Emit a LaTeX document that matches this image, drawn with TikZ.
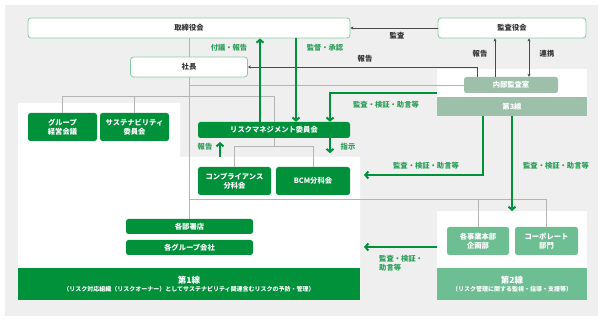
\documentclass[tikz,border=0pt]{standalone}
\usepackage{fontspec}
\setmainfont{Noto Sans CJK JP}
\usetikzlibrary{arrows.meta}
\definecolor{bggray}{HTML}{EFEFEF}
\definecolor{dkgreen}{HTML}{00913A}
\definecolor{midgreen}{HTML}{6DBE93}
\definecolor{graygreen}{HTML}{9CC0AA}
\definecolor{bordergreen}{HTML}{86CCA3}
\definecolor{treegray}{HTML}{B4B4B4}
\definecolor{darkline}{HTML}{4A4A4A}
\definecolor{labgreen}{HTML}{2E9E5B}
\definecolor{txt}{HTML}{333333}
\tikzset{
  boxfont/.style={font=\fontsize{7.3}{8.6}\selectfont\bfseries},
  topbox/.style={boxfont, draw=bordergreen, line width=0.8pt, fill=white, rounded corners=3pt, text=txt, inner sep=0pt},
  gbox/.style={boxfont, fill=dkgreen, rounded corners=2.5pt, text=white, inner sep=0pt, align=center},
  l2box/.style={boxfont, fill=midgreen, rounded corners=2.5pt, text=white, inner sep=0pt, align=center},
  l3box/.style={boxfont, fill=graygreen, rounded corners=2.5pt, text=white, inner sep=0pt, align=center},
  tree/.style={draw=treegray, line width=0.6pt},
  darr/.style={draw=darkline, line width=0.7pt, -{Stealth[length=3pt,width=3pt]}},
  dlab/.style={boxfont, text=txt, inner sep=0pt},
  garr/.style={draw=dkgreen, line width=2pt, -{Straight Barb[length=3pt,width=7pt]}},
  glab/.style={boxfont, text=labgreen, inner sep=0pt},
}
\begin{document}
\begin{tikzpicture}[x=1pt,y=-1pt]
\useasboundingbox (0,0) rectangle (605,320);
\fill[white] (0,0) rectangle (605,320);
\fill[bggray] (5,5) rectangle (598,316);
% white areas
\fill[white] (18,103) -- (180,103) -- (180,157) -- (360,157) -- (360,300) -- (18,300) -- cycle;
\fill[white] (437,69) rectangle (587,97);
\fill[white] (437,211) rectangle (587,300);

% nodes
\node[topbox, minimum width=322pt, minimum height=20pt] (tori) at (189,28) {取締役会};
\node[topbox, minimum width=148pt, minimum height=20pt] (kansa) at (512,28) {監査役会};
\node[topbox, minimum width=117pt, minimum height=20pt] (shacho) at (189,67) {社長};
\node[l3box, minimum width=94pt, minimum height=16pt] (naibu) at (511,85) {内部監査室};
\node[l3box, rounded corners=0pt, minimum width=150pt, minimum height=19pt] (l3bar) at (512,106.5) {第3線};
\node[gbox, minimum width=69pt, minimum height=28pt] (group) at (62.5,127) {グループ\\経営会議};
\node[gbox, minimum width=69pt, minimum height=28pt] (sustain) at (134.5,127) {サステナビリティ\\委員会};
\node[gbox, minimum width=152pt, minimum height=16pt] (riskcom) at (274,130) {リスクマネジメント委員会};
\node[gbox, minimum width=73pt, minimum height=28pt] (compl) at (234.5,181) {コンプライアンス\\分科会};
\node[gbox, minimum width=74pt, minimum height=28pt] (bcm) at (313,181) {BCM分科会};
\node[gbox, minimum width=127pt, minimum height=15pt] (bubu) at (189.5,226.5) {各部署店};
\node[gbox, minimum width=127pt, minimum height=15pt] (groupco) at (189.5,247.5) {各グループ会社};
\node[l2box, minimum width=62pt, minimum height=28pt] (jigyo) at (478,241) {各事業本部\\企画部};
\node[l2box, minimum width=63pt, minimum height=28pt] (corp) at (546.5,241) {コーポレート\\部門};
\node[gbox, rounded corners=0pt, minimum width=342pt, minimum height=32pt] (l1bar) at (189,284) {{\fontsize{8.5}{11}\selectfont 第1線}\\[-1pt]{\fontsize{6}{7}\selectfont （リスク対応組織（リスクオーナー）としてサステナビリティ関連含むリスクの予防・管理）}};
\node[l2box, rounded corners=0pt, minimum width=150pt, minimum height=32pt] (l2bar) at (512,284) {{\fontsize{8.5}{11}\selectfont 第2線}\\[-1pt]{\fontsize{6}{7}\selectfont （リスク管理に関する監視・指導・支援等）}};

% tree lines
\draw[tree] (tori.south) -- (shacho.north);
\draw[tree] (shacho.south) -- (shacho.south |- bubu.north);
\draw[tree] (shacho.south |- naibu.west) -- (naibu.west);
\draw[tree] (group.north) -- (group.north |- 0,96) -| (riskcom.north);
\draw[tree] (sustain.north) -- (sustain.north |- 0,96);
\draw[tree] (riskcom.south) -- (riskcom.south |- 0,146);
\draw[tree] (compl.north) -- (compl.north |- 0,146) -| (bcm.north);
\draw[tree] (shacho.south |- 0,199) -| (corp.north);
\draw[tree] (jigyo.north |- 0,199) -- (jigyo.north);

% dark arrows
\draw[darr] (kansa.west) -- (tori.east);
\node[dlab] (lkansa) at (397,36) {監査};
\draw[darr] (naibu.north -| 477,0) |- (shacho.east);
\node[dlab] (lhoukoku1) at (365,59) {報告};
\draw[darr] (naibu.north -| 495,0) -- (kansa.south -| 495,0);
\node[dlab] (lhoukoku2) at (480,54) {報告};
\draw[darr, {Stealth[length=3pt,width=3pt]}-{Stealth[length=3pt,width=3pt]}] (naibu.north -| 529,0) -- (kansa.south -| 529,0);
\node[dlab] (lrenkei) at (547,54) {連携};

% green arrows
\draw[garr] (riskcom.north -| 260,0) -- (tori.south -| 260,0);
\node[glab] (lfugi) at (229,48) {付議・報告};
\draw[garr] (tori.south -| 296,0) -- (riskcom.north -| 296,0);
\node[glab] (lkantoku) at (325,48) {監督・承認};
\coordinate (l3w) at (437,93);
\draw[garr] (l3w) -| (riskcom.north -| 330,0);
\node[glab] (lk1) at (386,105) {監査・検証・助言等};
\draw[garr] (riskcom.south -| 330,0) -- ++(0,15);
\node[glab] (lshiji) at (348,147) {指示};
\coordinate (rb1) at (220,157);
\coordinate (rb2) at (220,142);
\draw[garr] (rb1) -- (rb2);
\node[glab] (lhoukoku3) at (205,147) {報告};
\coordinate (a1) at (364,175);
\draw[garr] (l3bar.south -| 483,0) |- (a1);
\node[glab] (lk2) at (426,166) {監査・検証・助言等};
\coordinate (l2top) at (512,211);
\draw[garr] (l3bar.south -| 512,0) -- (l2top);
\node[glab] (lk3) at (556,166) {監査・検証・助言等};
\coordinate (l2w) at (437,247);
\coordinate (a2) at (364,247);
\draw[garr] (l2w) -- (a2);
\node[glab, align=left, anchor=north west] (lk4) at (379,255) {監査・検証・\\助言等};
\end{tikzpicture}
\end{document}
